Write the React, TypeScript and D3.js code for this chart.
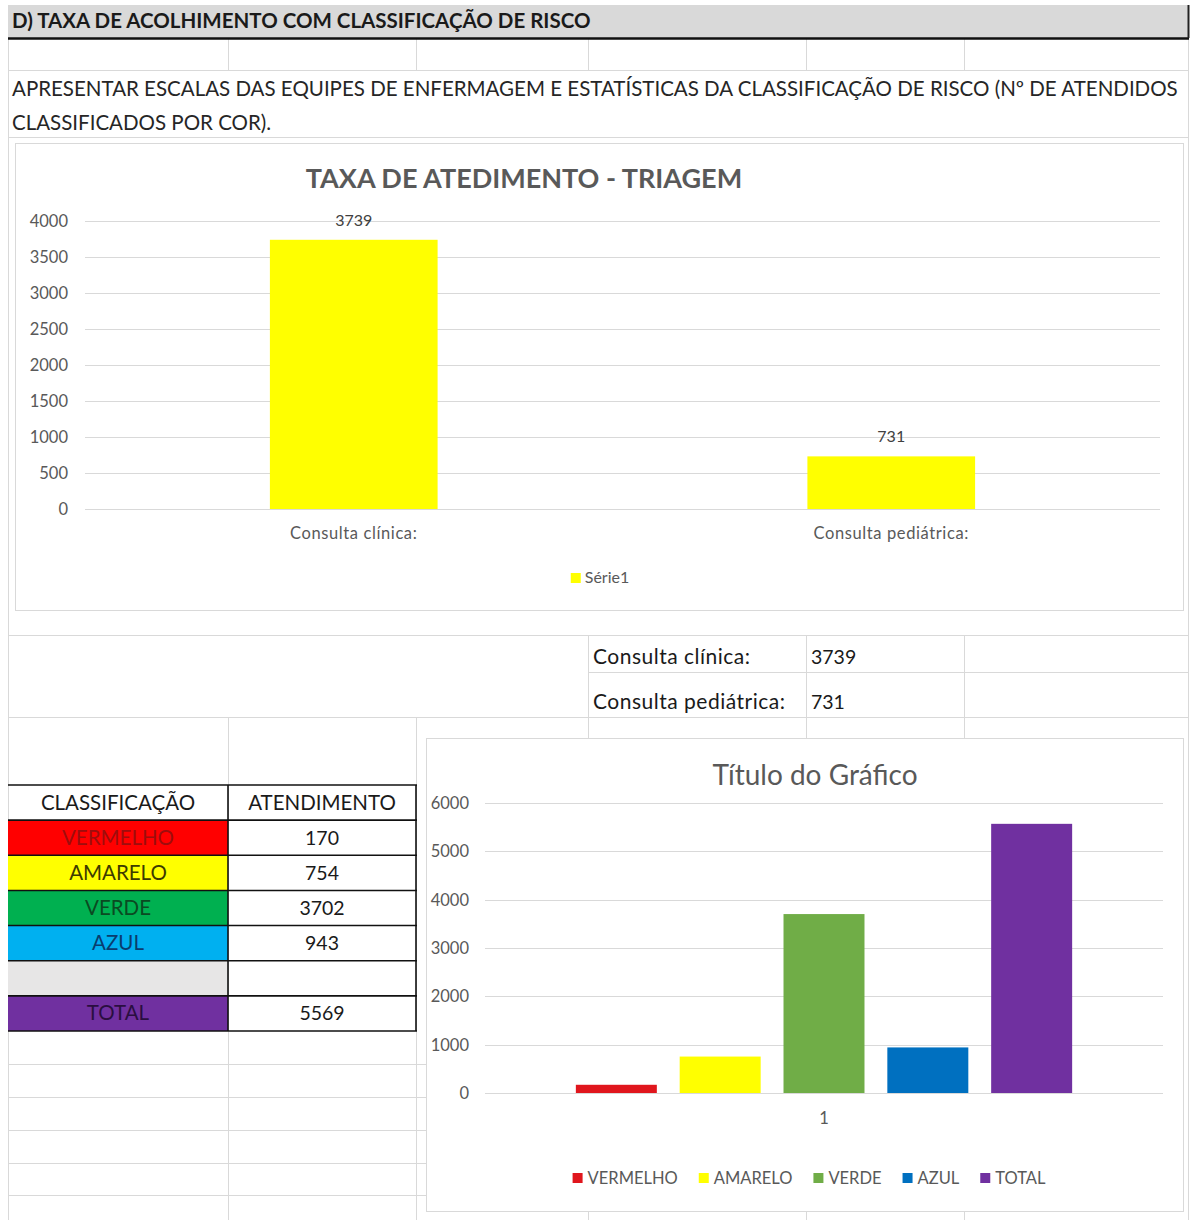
import React, { useEffect, useRef } from "react";
import * as d3 from "d3";

const W = 1192;
const H = 1220;
const FONT = "Lato, 'Open Sans', sans-serif";
const GRID = "#d9d9d9";
const INK = "#595959";

// Cabeçalho da planilha
const tituloSecao = "D) TAXA DE ACOLHIMENTO COM CLASSIFICAÇÃO DE RISCO";
const instrucao = [
    "APRESENTAR ESCALAS DAS EQUIPES DE ENFERMAGEM E ESTATÍSTICAS DA CLASSIFICAÇÃO DE RISCO (Nº DE ATENDIDOS",
    "CLASSIFICADOS POR COR).",
];

// Gráfico 1 – triagem
const triagemTitulo = "TAXA DE ATEDIMENTO - TRIAGEM";
const triagemCategorias = ["Consulta clínica:", "Consulta pediátrica:"];
const triagemValores = [3739, 731];
const triagemSerie = "Série1";
const triagemMax = 4000;

// Gráfico 2 – classificação de risco
const riscoTitulo = "Título do Gráfico";
const riscoCategoria = ["1"];
const riscoClasses = ["VERMELHO", "AMARELO", "VERDE", "AZUL", "TOTAL"];
const riscoValores = [170, 754, 3702, 943, 5569];
const riscoCores = ["#e0161d", "#ffff00", "#70ad47", "#0070c0", "#7030a0"];
const riscoMax = 6000;

// Tabela de classificação
const tabelaCabecalho = ["CLASSIFICAÇÃO", "ATENDIMENTO"];
const tabelaClasses = ["VERMELHO", "AMARELO", "VERDE", "AZUL", "", "TOTAL"];
const tabelaValores = ["170", "754", "3702", "943", "", "5569"];
const tabelaFundo = ["#ff0000", "#ffff00", "#00b050", "#00b0f0", "#e7e6e6", "#7030a0"];
const tabelaTexto = ["#9e0d0d", "#3d3b00", "#0b4a22", "#0a3c6e", "#000000", "#2a0e40"];

const App: React.FC = () => {
    const svgRef = useRef<SVGSVGElement>(null);

    useEffect(() => {
        if (!svgRef.current) return;
        const svg = d3.select(svgRef.current);
        svg.selectAll("*").remove();

        svg.append("rect").attr("width", W).attr("height", H).attr("fill", "#fff");

        const line = (x1: number, y1: number, x2: number, y2: number, color = GRID, w = 1) =>
            svg.append("line")
                .attr("x1", x1).attr("y1", y1).attr("x2", x2).attr("y2", y2)
                .attr("stroke", color).attr("stroke-width", w);

        const text = (x: number, y: number, s: string, size: number, fill = "#262626", anchor = "start", weight = "normal", spacing = 0) =>
            svg.append("text")
                .attr("x", x).attr("y", y)
                .attr("font-family", FONT).attr("font-size", size)
                .attr("font-weight", weight)
                .attr("letter-spacing", spacing)
                .attr("fill", fill).attr("text-anchor", anchor)
                .text(s);

        // ---- grade da planilha
        line(8.5, 38, 8.5, H);
        line(1188.5, 38, 1188.5, H);
        [228, 416, 588, 806, 964].forEach((x) => line(x + 0.5, 38, x + 0.5, 70));
        [70, 137, 635, 717].forEach((y) => line(8, y + 0.5, 1188, y + 0.5));
        line(588, 672.5, 1188, 672.5);
        [588, 806, 964].forEach((x) => {
            line(x + 0.5, 635, x + 0.5, 738);
            line(x + 0.5, 1212, x + 0.5, H);
        });
        [228, 416].forEach((x) => line(x + 0.5, 717, x + 0.5, H));
        [1064, 1097, 1130, 1163, 1195].forEach((y) => line(8, y + 0.5, 426, y + 0.5));

        // ---- cabeçalho
        svg.append("rect").attr("x", 8).attr("y", 5).attr("width", 1180).attr("height", 33).attr("fill", "#d9d9d9");
        text(12, 28, tituloSecao, 20.5, "#1a1a1a", "start", "bold");
        line(8, 38.5, 1189, 38.5, "#111", 2.5);
        line(1188.5, 5, 1188.5, 38, "#222", 2);

        instrucao.forEach((s, i) => text(12, 96 + i * 34, s, 20.5, "#262626"));

        // ---- valores de consulta
        triagemCategorias.forEach((c, i) => {
            const y = 664 + i * 45;
            text(593, y, c, 21, "#1a1a1a", "start", "normal", 0.5);
            text(811, y, String(triagemValores[i]), 19.5, "#1a1a1a");
        });

        // ---- gráfico 1
        svg.append("rect")
            .attr("x", 15.5).attr("y", 143.5).attr("width", 1168).attr("height", 467)
            .attr("fill", "#fff").attr("stroke", GRID);

        const g1 = { left: 85, right: 1160, top: 221, bottom: 509 };
        const x1 = d3.scaleBand().domain(triagemCategorias).range([g1.left, g1.right]);
        const y1 = d3.scaleLinear().domain([0, triagemMax]).range([g1.bottom, g1.top]);

        text(524, 188, triagemTitulo, 27, INK, "middle", "bold");

        y1.ticks(8).forEach((t) => {
            line(g1.left, Math.round(y1(t)) + 0.5, g1.right, Math.round(y1(t)) + 0.5, GRID);
            text(68, y1(t) + 6, String(t), 16.5, INK, "end");
        });

        const bw1 = x1.bandwidth() * 0.312;
        triagemCategorias.forEach((c, i) => {
            const cx = x1(c)! + x1.bandwidth() / 2;
            const v = triagemValores[i];
            svg.append("rect")
                .attr("x", cx - bw1 / 2).attr("y", y1(v))
                .attr("width", bw1).attr("height", y1(0) - y1(v))
                .attr("fill", "#ffff00");
            text(cx, y1(v) - 14, String(v), 16, "#404040", "middle");
            text(cx, 539, c, 16.5, INK, "middle", "normal", 0.6);
        });

        // legenda 1
        const leg1 = svg.append("g");
        leg1.append("rect").attr("x", 0).attr("y", -10).attr("width", 10).attr("height", 10).attr("fill", "#ffff00");
        leg1.append("text").attr("x", 14).attr("y", 0)
            .attr("font-family", FONT).attr("font-size", 16).attr("fill", INK).text(triagemSerie);
        const l1w = (leg1.node() as SVGGElement).getBBox().width;
        leg1.attr("transform", `translate(${600 - l1w / 2},583)`);

        // ---- tabela
        const tx = [8, 228, 416];
        const ty = d3.scaleBand<number>().domain(d3.range(tabelaClasses.length + 1)).range([785, 1031]);
        tabelaClasses.forEach((c, i) => {
            const y = ty(i + 1)!;
            svg.append("rect").attr("x", tx[0]).attr("y", y).attr("width", tx[1] - tx[0]).attr("height", ty.bandwidth())
                .attr("fill", tabelaFundo[i]);
            text((tx[0] + tx[1]) / 2, y + ty.bandwidth() / 2 + 7, c, 20.5, tabelaTexto[i], "middle");
            text((tx[1] + tx[2]) / 2, y + ty.bandwidth() / 2 + 7, tabelaValores[i], 19.5, "#1a1a1a", "middle");
        });
        tabelaCabecalho.forEach((h, j) => {
            text((tx[j] + tx[j + 1]) / 2, ty(0)! + ty.bandwidth() / 2 + 7, h, 20.5, "#1a1a1a", "middle");
        });
        d3.range(tabelaClasses.length + 2).forEach((r) => {
            const y = r <= tabelaClasses.length ? ty(r)! : 1031;
            line(tx[0], y, tx[2] + 1, y, "#111", 1.6);
        });
        [tx[1], tx[2]].forEach((x) => line(x, 785, x, 1031, "#111", 1.6));

        // ---- gráfico 2
        svg.append("rect")
            .attr("x", 426.5).attr("y", 738.5).attr("width", 757).attr("height", 473)
            .attr("fill", "#fff").attr("stroke", GRID);

        const g2 = { left: 485, right: 1163, top: 803, bottom: 1093 };
        const x0 = d3.scaleBand().domain(riscoCategoria).range([g2.left, g2.right]);
        const y2 = d3.scaleLinear().domain([0, riscoMax]).range([g2.bottom, g2.top]);
        const inset = x0.bandwidth() * 0.134;
        const xs = d3.scaleBand().domain(riscoClasses)
            .range([x0("1")! + inset, x0("1")! + x0.bandwidth() - inset])
            .paddingInner(0.22);

        text(815, 785, riscoTitulo, 28, INK, "middle");

        y2.ticks(6).forEach((t) => {
            line(g2.left, Math.round(y2(t)) + 0.5, g2.right, Math.round(y2(t)) + 0.5, GRID);
            text(469, y2(t) + 6, String(t), 16.5, INK, "end");
        });

        riscoClasses.forEach((c, i) => {
            const v = riscoValores[i];
            svg.append("rect")
                .attr("x", xs(c)!).attr("y", y2(v))
                .attr("width", xs.bandwidth()).attr("height", y2(0) - y2(v))
                .attr("fill", riscoCores[i]);
        });
        riscoCategoria.forEach((c) => text(x0(c)! + x0.bandwidth() / 2, 1124, c, 16.5, INK, "middle"));

        // legenda 2
        const leg2 = svg.append("g");
        let off = 0;
        riscoClasses.forEach((c, i) => {
            const it = leg2.append("g").attr("transform", `translate(${off},0)`);
            it.append("rect").attr("x", 0).attr("y", -11).attr("width", 10).attr("height", 10).attr("fill", riscoCores[i]);
            const t = it.append("text").attr("x", 15).attr("y", 0)
                .attr("font-family", FONT).attr("font-size", 16.5).attr("fill", INK).text(c);
            off += 15 + (t.node() as SVGTextElement).getComputedTextLength() + 21;
        });
        const l2w = off - 21;
        leg2.attr("transform", `translate(${809 - l2w / 2},1184)`);
    }, []);

    return (
        <div style={{ position: "absolute", left: 0, top: 0 }}>
            <svg ref={svgRef} width={W} height={H} style={{ display: "block" }} />
        </div>
    );
};

export default App;
